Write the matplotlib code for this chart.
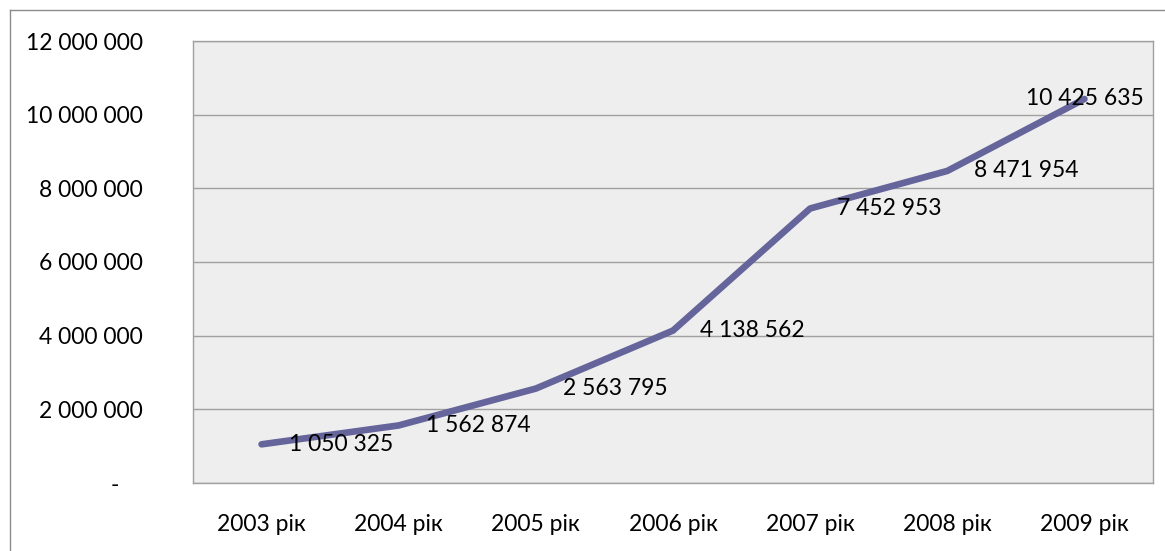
import matplotlib.pyplot as plt
from matplotlib.lines import Line2D
from matplotlib.ticker import FuncFormatter

plt.rcParams['font.family'] = ['Lato', 'DejaVu Sans']

years = ['2003 рік', '2004 рік', '2005 рік', '2006 рік', '2007 рік', '2008 рік', '2009 рік']
values = [1050325, 1562874, 2563795, 4138562, 7452953, 8471954, 10425635]

W, H = 1165, 551
fig = plt.figure(figsize=(W / 100, H / 100), dpi=100)
ax = fig.add_axes([193 / W, 1 - 483 / H, (1153 - 193) / W, (483 - 41) / H])

ax.set_facecolor('#EEEEEE')
x = list(range(len(years)))
ax.plot(x, values, color='#65659C', linewidth=4.8,
        solid_capstyle='round', solid_joinstyle='round', zorder=3)

ax.set_xlim(-0.5, len(years) - 0.5)
ax.set_ylim(0, 12000000)
ax.set_yticks(range(0, 12000001, 2000000))
ax.grid(axis='y', color='#A0A0A0', linewidth=1)
ax.set_axisbelow(True)


def fmt(v, pos):
    if v == 0:
        return '-    '
    return f'{int(v):,}'.replace(',', ' ')


ax.yaxis.set_major_formatter(FuncFormatter(fmt))
ax.set_xticks(x)
ax.set_xticklabels(years)
ax.tick_params(axis='both', length=0, labelsize=16.5, colors='black')
ax.tick_params(axis='y', pad=36)
ax.tick_params(axis='x', pad=22)

for sp in ax.spines.values():
    sp.set_color('#A0A0A0')
    sp.set_linewidth(1)

# подписи значений
for i, v in enumerate(values):
    lab = f'{v:,}'.replace(',', ' ')
    if i == len(values) - 1:
        ax.annotate(lab, (i, v), xytext=(0, 0), textcoords='offset pixels',
                    ha='center', va='center', fontsize=16.5, zorder=4)
    else:
        ax.annotate(lab, (i, v), xytext=(27, 0), textcoords='offset pixels',
                    ha='left', va='center', fontsize=16.5, zorder=4)

# рамка диаграммы
fig.add_artist(Line2D([9.5 / W, 9.5 / W], [0, 1 - 9.5 / H], transform=fig.transFigure,
                      color='#8C8C8C', linewidth=1))
fig.add_artist(Line2D([9.5 / W, 1], [1 - 9.5 / H, 1 - 9.5 / H], transform=fig.transFigure,
                      color='#8C8C8C', linewidth=1))

fig.savefig('out.png', dpi=100)
